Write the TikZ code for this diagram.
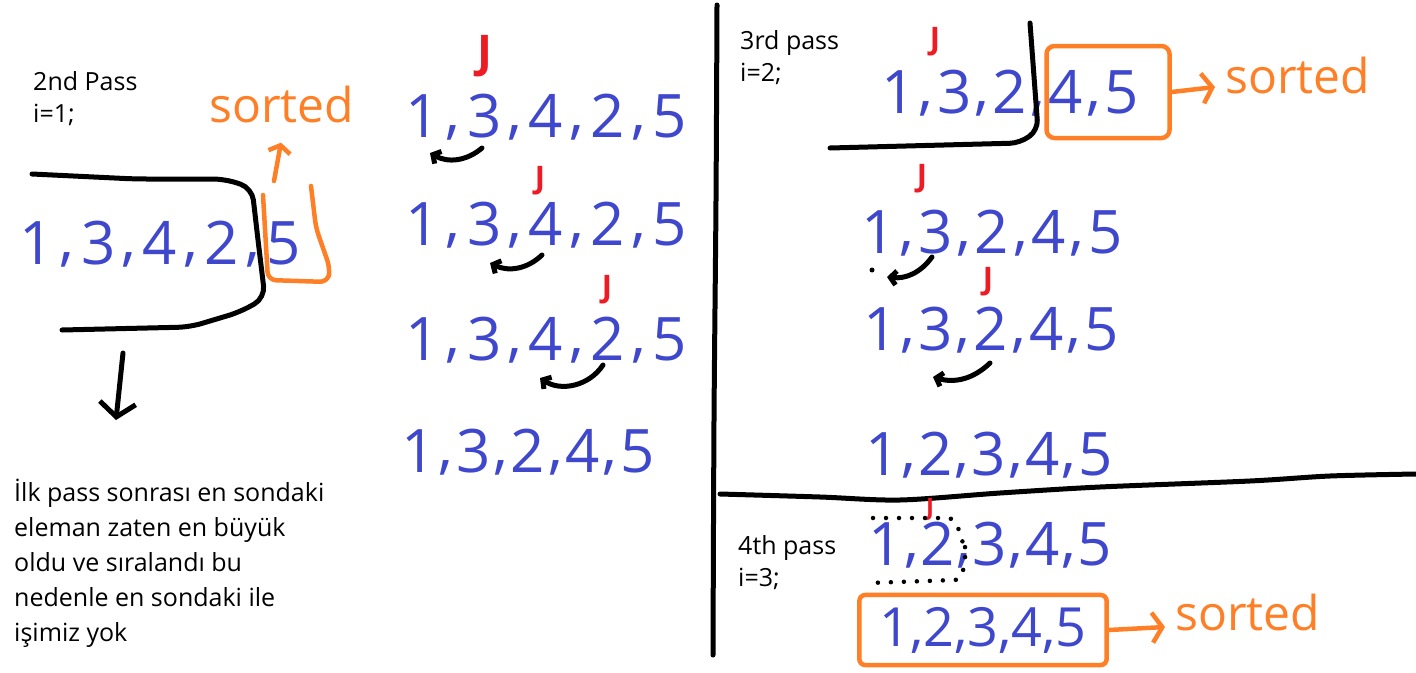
\documentclass[tikz,border=0pt]{standalone}
\usepackage{fontspec}
\setmainfont{Open Sans}
\setsansfont{Open Sans}
\usetikzlibrary{arrows.meta,positioning}

\definecolor{penblue}{RGB}{63,72,204}
\definecolor{penred}{RGB}{237,28,36}
\definecolor{penorange}{RGB}{255,127,39}

\tikzset{
  digits/.style={font=\fontsize{60}{60}\selectfont, text=penblue, inner sep=0pt, anchor=base west},
  jmark/.style={font=\bfseries\fontsize{31}{31}\selectfont, text=penred, inner sep=0pt, anchor=south},
  sortedtxt/.style={font=\fontsize{48}{48}\selectfont, text=penorange, inner sep=0pt, anchor=base west},
  passlbl/.style={font=\fontsize{25}{32}\selectfont, align=left, inner sep=0pt, anchor=north west},
  pen/.style={line width=5pt, line cap=round, line join=round},
  orangepen/.style={line width=4.5pt, line cap=round, line join=round, penorange},
  swaparr/.style={pen, -{Straight Barb[length=6pt,width=14pt]}},
}

% five numbers with hand-like commas; #1 = space on each side of a comma
\newcommand{\fivenums}[6]{#2\hspace{#1}\raisebox{5pt}{,}\hspace{#1}#3\hspace{#1}\raisebox{5pt}{,}\hspace{#1}#4\hspace{#1}\raisebox{5pt}{,}\hspace{#1}#5\hspace{#1}\raisebox{5pt}{,}\hspace{#1}#6}

\begin{document}
\begin{tikzpicture}[x=1pt, y=-1pt]
  \useasboundingbox (0,0) rectangle (1416,672);

  % dividers
  \draw[pen] plot[smooth] coordinates {(717,5) (716,200) (714,420) (713,655)};
  \draw[pen] plot[smooth] coordinates {(720,494) (820,497) (900,500) (1000,493) (1100,487) (1250,481) (1330,476) (1416,474)};

  % 2nd pass
  \node[passlbl] (p2) at (33,71) {2nd Pass\\i=1;};
  \node[digits] (a) at (19,264) {\fivenums{6.4pt}{1}{3}{4}{2}{5}};
  \draw[pen, rounded corners=12pt] (32,174) -- (135,179) -- (225,179) -- (252,188)
    -- (258,240) -- (265,298) -- (240,312) -- (190,327) -- (62,330);
  \draw[orangepen, rounded corners=8pt] (263,195) -- (268,280) -- (328,282) -- (330,268) -- (316,228) -- (311,186);
  \node[sortedtxt] (srt0) at (209,122) {sorted};
  \coordinate (lup) at (274,181);
  \draw[orangepen, -{Straight Barb[length=7pt,width=22pt]}] (lup) -- ([xshift=72pt,yshift=-20pt]srt0.south west);
  \coordinate (dtop) at (123,353);
  \coordinate (dbot) at (116,420);
  \draw[pen, -{Straight Barb[length=14pt,width=36pt]}] (dtop) -- (dbot);
  \node[passlbl, font=\fontsize{25}{35}\selectfont] (note) at (14,479)
    {İlk pass sonrası en sondaki\\eleman zaten en büyük\\oldu ve sıralandı bu\\nedenle en sondaki ile\\işimiz yok};

  % swaps of the 2nd pass
  \node[digits] (b) at (405,137) {\fivenums{6.4pt}{1}{3}{4}{2}{5}};
  \node[jmark, font=\bfseries\fontsize{45}{45}\selectfont] (jb) at ([xshift=80pt,yshift=16pt]b.north west) {J};
  \draw[swaparr] ([xshift=77pt,yshift=-11pt]b.base west) to[bend left=35] ([xshift=25pt,yshift=-16pt]b.base west);
  \node[digits] (c) at (405,245) {\fivenums{6.4pt}{1}{3}{4}{2}{5}};
  \node[jmark] (jc) at ([xshift=135pt,yshift=6pt]c.north west) {J};
  \draw[swaparr] ([xshift=137pt,yshift=-10pt]c.base west) to[bend left=35] ([xshift=85pt,yshift=-18pt]c.base west);
  \node[digits] (d) at (405,360) {\fivenums{6.4pt}{1}{3}{4}{2}{5}};
  \node[jmark] (jd) at ([xshift=202pt,yshift=12pt]d.north west) {J};
  \draw[swaparr] ([xshift=198pt,yshift=-5pt]d.base west) to[bend left=45] ([xshift=135pt,yshift=-18pt]d.base west);
  \node[digits] (e) at (401,472) {\fivenums{2.9pt}{1}{3}{2}{4}{5}};

  % 3rd pass
  \node[passlbl] (p3) at (740,30) {3rd pass\\i=2;};
  \node[digits] (f) at (881,113) {\fivenums{3.4pt}{1}{3}{2}{4}{5}};
  \node[jmark] (jf) at ([xshift=54pt,yshift=13pt]f.north west) {J};
  \draw[pen, rounded corners=10pt] (1030,23) -- (1038,130) -- (1020,143) -- (830,148);
  \node[draw=penorange, line width=4.5pt, rounded corners=8pt, minimum width=123pt,
    minimum height=92pt, inner sep=0pt] (box1) at (1108,92) {};
  \node[sortedtxt] (srt1) at (1225,93) {sorted};
  \draw[orangepen, -{Straight Barb[length=10pt,width=30pt]}] (box1.east) -- ([xshift=-10pt,yshift=6pt]srt1.base west);

  \node[digits] (g) at (861,253) {\fivenums{3.9pt}{1}{3}{2}{4}{5}};
  \node[jmark] (jg) at ([xshift=61pt,yshift=16pt]g.north west) {J};
  \fill (872,270) circle (2.5);
  \draw[swaparr] ([xshift=71pt,yshift=-4pt]g.base west) to[bend left=30] ([xshift=26pt,yshift=-24pt]g.base west);
  \node[digits] (h) at (863,350) {\fivenums{3.15pt}{1}{3}{2}{4}{5}};
  \node[jmark] (jh) at ([xshift=125pt,yshift=10pt]h.north west) {J};
  \draw[swaparr] ([xshift=127pt,yshift=-13pt]h.base west) to[bend left=30] ([xshift=70pt,yshift=-27pt]h.base west);
  \node[digits] (k) at (865,475) {\fivenums{2.15pt}{1}{2}{3}{4}{5}};

  % 4th pass
  \node[passlbl] (p4) at (738,535) {4th pass\\i=3;};
  \node[digits] (m) at (868,565) {\fivenums{1.65pt}{1}{2}{3}{4}{5}};
  \node[jmark, font=\bfseries\fontsize{24}{24}\selectfont] (jm) at ([xshift=62pt,yshift=1pt]m.north west) {J};
  \draw[pen, line width=4.5pt, dash pattern=on 0pt off 13pt] (873,518) -- (948,518)
    to[out=0,in=-90] (965,548) to[out=90,in=0] (955,580) -- (868,583);
  \node[digits, anchor=center, font=\fontsize{54}{54}\selectfont, draw=penorange, line width=4.5pt,
    rounded corners=6pt, inner xsep=20pt, inner ysep=12pt] (done) at (983,630) {1,2,3,4,5};
  \node[sortedtxt] (srt2) at (1175,630) {sorted};
  \draw[orangepen, -{Straight Barb[length=10pt,width=30pt]}] (done.east) -- ([xshift=-10pt,yshift=3pt]srt2.base west);
\end{tikzpicture}
\end{document}
